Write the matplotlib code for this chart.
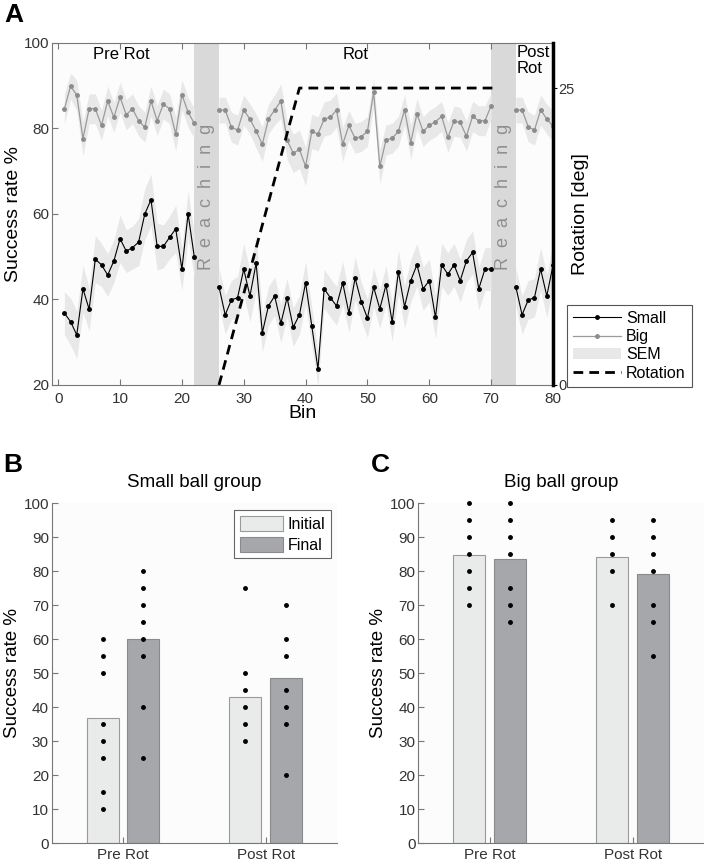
import numpy as np
import matplotlib
matplotlib.use('Agg')
import matplotlib.pyplot as plt
from matplotlib.lines import Line2D
from matplotlib.patches import Patch

plt.rcParams['font.family'] = ['Liberation Sans', 'DejaVu Sans']

# ---- panel A: success rate per bin ----
pre_bins = list(range(1, 23))
rot_bins = list(range(26, 71))
post_bins = list(range(74, 81))

small_pre = [36.8, 34.8, 31.7, 42.5, 37.7, 49.4, 48.1, 45.7, 49.0, 54.2, 51.3,
             52.1, 53.4, 60.0, 63.3, 52.4, 52.4, 54.5, 56.5, 47.1, 60.0, 50.0]
small_rot = [42.9, 36.4, 39.9, 40.4, 47.1, 40.8, 48.5, 32.2, 38.5, 40.8,
             34.4, 40.4, 33.5, 36.4, 43.9, 33.8, 23.7, 42.5, 40.4, 38.5,
             43.9, 36.8, 45.0, 39.5, 35.6, 42.9, 37.8, 43.4, 34.7, 46.5,
             38.3, 44.4, 48.1, 42.5, 44.4, 35.8, 48.1, 45.9, 48.1, 44.4,
             49.0, 51.0, 42.5, 47.1, 47.1]
small_post = [42.9, 36.4, 39.9, 40.4, 47.1, 40.8, 48.0]

big_pre = [84.6, 89.9, 87.8, 77.6, 84.6, 84.6, 80.7, 86.4, 82.6, 87.3, 83.2,
           84.6, 81.8, 80.3, 86.4, 81.8, 85.7, 84.6, 78.7, 87.9, 83.8, 81.2]
big_rot = [84.3, 84.3, 80.3, 79.6, 84.3, 82.2, 79.4, 76.3, 82.2, 84.3,
           86.4, 77.3, 74.2, 75.1, 71.1, 79.3, 78.7, 82.2, 82.6, 84.3,
           76.3, 80.7, 77.7, 78.1, 79.3, 88.5, 71.1, 77.3, 77.7, 79.3,
           84.3, 76.7, 83.4, 79.3, 80.7, 81.6, 82.8, 77.9, 81.7, 81.4,
           78.2, 82.8, 81.8, 81.8, 85.3]
big_post = [84.3, 84.3, 80.4, 79.6, 84.3, 82.2, 80.5]

small_sem_pre = [5.0, 5.5, 5.5, 5.5, 5.0, 5.5, 5.0, 5.0, 5.0, 5.5, 5.0,
                 5.0, 5.5, 6.0, 6.0, 5.5, 5.0, 5.0, 5.5, 5.0, 5.5, 5.0]
small_sem_rot = [4.5, 4.5, 4.5, 5.0, 6.0, 6.0, 6.5, 4.5, 4.5, 4.5,
                 4.5, 4.5, 4.5, 4.5, 5.0, 4.5, 4.0, 4.5, 4.5, 4.5,
                 5.0, 4.5, 5.0, 4.5, 4.5, 4.5, 4.5, 4.5, 4.5, 5.0,
                 5.0, 5.0, 5.0, 5.0, 5.0, 5.0, 5.0, 5.0, 5.0, 5.0,
                 5.0, 5.0, 5.0, 5.0, 5.0]
small_sem_post = [4.5, 4.5, 4.5, 4.5, 5.0, 5.0, 5.0]

big_sem_pre = [3.5, 3.0, 3.5, 4.0, 3.5, 3.5, 3.5, 3.5, 3.5, 3.5, 3.5,
               3.5, 3.5, 3.5, 3.5, 3.5, 3.5, 3.5, 4.0, 3.5, 3.5, 3.5]
big_sem_rot = [3.0, 3.0, 3.5, 3.5, 3.5, 3.5, 4.0, 4.0, 3.5, 3.5,
               4.0, 4.5, 4.5, 4.5, 4.5, 4.0, 4.0, 4.0, 4.0, 4.0,
               4.0, 3.5, 3.5, 3.5, 3.5, 3.0, 4.0, 3.5, 3.5, 3.5,
               3.5, 4.0, 3.5, 3.5, 3.5, 3.5, 3.5, 3.5, 3.5, 3.5,
               3.5, 3.5, 3.5, 3.5, 3.0]
big_sem_post = [3.0, 3.0, 3.5, 3.5, 3.5, 3.5, 3.5]

reach_blocks = [(22, 26), (70, 74)]
rot_x = [26, 39, 71]
rot_deg = [0, 25, 25]

# ---- panels B, C: group summary ----
groups = ['Pre Rot', 'Post Rot']
small_initial = [37.0, 43.1]
small_final = [60.0, 48.7]
small_initial_pts = [[60, 55, 50, 35, 30, 25, 15, 10], [75, 50, 45, 40, 35, 30]]
small_final_pts = [[80, 75, 70, 65, 60, 55, 40, 25], [70, 60, 55, 45, 40, 35, 20]]
big_initial = [84.8, 84.1]
big_final = [83.6, 79.1]
big_initial_pts = [[100, 95, 90, 85, 80, 75, 70], [95, 90, 85, 80, 70]]
big_final_pts = [[100, 95, 90, 85, 75, 70, 65], [95, 90, 85, 80, 70, 65, 55]]

c_small = 'black'
c_big = '#9a9a9a'
c_sem = '#e8e8e8'
c_reach = '#d9d9d9'
c_init = '#e9ebeb'
c_final = '#a6a7aa'
c_spine = '#777777'
c_tick = '#333333'

fig = plt.figure(figsize=(7.04, 8.67), dpi=100)

axA = fig.add_axes([0.0739, 0.556, 0.7116, 0.3945])
axA.set_facecolor('#fcfcfc')
for x0, x1 in reach_blocks:
    axA.axvspan(x0, x1, color=c_reach, lw=0, zorder=1)
    axA.text((x0 + x1) / 2, 64, 'R  e  a  c  h  i  n  g', rotation=90,
             ha='center', va='center', color='#8f8f8f', fontsize=13, zorder=2)

segments = [(pre_bins, small_pre, small_sem_pre, big_pre, big_sem_pre),
            (rot_bins, small_rot, small_sem_rot, big_rot, big_sem_rot),
            (post_bins, small_post, small_sem_post, big_post, big_sem_post)]
for bins, s, s_sem, b, b_sem in segments:
    s = np.array(s); s_sem = np.array(s_sem)
    b = np.array(b); b_sem = np.array(b_sem)
    axA.fill_between(bins, b - b_sem, b + b_sem, color=c_sem, lw=0, zorder=2)
    axA.fill_between(bins, s - s_sem, s + s_sem, color=c_sem, lw=0, zorder=2)
    axA.plot(bins, b, '-', color=c_big, lw=0.9, marker='.', ms=5,
             mfc='#8c8c8c', mec='#8c8c8c', zorder=3)
    axA.plot(bins, s, '-', color=c_small, lw=0.8, marker='.', ms=5, zorder=4)

axA.set_xlim(-1, 80)
axA.set_ylim(20, 100)
axA.set_xticks(range(0, 81, 10))
axA.set_yticks(range(20, 101, 20))
axA.tick_params(direction='in', top=True, right=True, length=4, color=c_spine,
                labelsize=11, labelcolor=c_tick)
axA.tick_params(axis='x', pad=5)
axA.tick_params(axis='y', pad=2)
for sp in axA.spines.values():
    sp.set_color(c_spine)
axA.spines['right'].set_visible(False)
axA.set_xlabel('Bin', fontsize=14, labelpad=-1)
axA.set_ylabel('Success rate %', fontsize=14, labelpad=1)

axA.text(10.2, 97.2, 'Pre Rot', ha='center', va='center', fontsize=12)
axA.text(48.1, 97.2, 'Rot', ha='center', va='center', fontsize=12)
axA.text(74.2, 99.4, 'Post\nRot', ha='left', va='top', fontsize=12,
         linespacing=1.05)

ax2 = axA.twinx()
ax2.plot(rot_x, rot_deg, '--', color='black', lw=2, dashes=(3.5, 2.2), zorder=5)
ax2.set_ylim(0, 28.8)
ax2.set_yticks([0, 25])
for side in ['left', 'top', 'bottom']:
    ax2.spines[side].set_visible(False)
ax2.spines['right'].set_linewidth(2.5)
ax2.spines['right'].set_color('black')
ax2.tick_params(direction='out', length=3, labelsize=10.5, labelcolor=c_tick,
                pad=1)
ax2.set_ylabel('Rotation [deg]', fontsize=14, labelpad=-2)

handles = [Line2D([], [], color=c_small, lw=0.8, marker='.', ms=5),
           Line2D([], [], color=c_big, lw=0.9, marker='.', ms=5,
                  mfc='#8c8c8c', mec='#8c8c8c'),
           Patch(facecolor=c_sem, edgecolor='none'),
           Line2D([], [], color='black', lw=2, ls='--', dashes=(3.5, 2.2))]
leg = ax2.legend(handles, ['Small', 'Big', 'SEM', 'Rotation'], loc='lower left',
                 bbox_to_anchor=(1.028, -0.006), borderaxespad=0, fontsize=11.5,
                 fancybox=False, handlelength=3, handletextpad=0.3,
                 labelspacing=0.2, borderpad=0.4, framealpha=1)
leg.get_frame().set_edgecolor('#555555')
leg.get_frame().set_linewidth(0.8)


def bar_panel(ax, initial, final, init_pts, final_pts, title):
    x = np.arange(1, len(groups) + 1)
    off, w = 0.143, 0.225
    ax.set_facecolor('#fcfcfc')
    ax.bar(x - off, initial, w, color=c_init, edgecolor='#9a9a9a', lw=0.8,
           label='Initial', zorder=2)
    ax.bar(x + off, final, w, color=c_final, edgecolor='#8a8a8a', lw=0.8,
           label='Final', zorder=2)
    for i in range(len(groups)):
        ax.plot([x[i] - off] * len(init_pts[i]), init_pts[i], '.', color='k',
                ms=5, zorder=3, clip_on=False)
        ax.plot([x[i] + off] * len(final_pts[i]), final_pts[i], '.', color='k',
                ms=5, zorder=3, clip_on=False)
    ax.set_xlim(0.5, 2.5)
    ax.set_ylim(0, 100)
    ax.set_yticks(range(0, 101, 10))
    ax.set_xticks(x)
    ax.set_xticklabels(groups)
    ax.spines['top'].set_visible(False)
    ax.spines['right'].set_visible(False)
    ax.spines['left'].set_color(c_spine)
    ax.spines['bottom'].set_color(c_spine)
    ax.tick_params(direction='in', length=4, color=c_spine, labelsize=11,
                   labelcolor=c_tick)
    ax.tick_params(axis='y', pad=2)
    ax.set_ylabel('Success rate %', fontsize=13.5, labelpad=2)
    ax.set_title(title, fontsize=13.5, pad=12)


axB = fig.add_axes([0.0734, 0.0273, 0.4053, 0.3922])
bar_panel(axB, small_initial, small_final, small_initial_pts, small_final_pts,
          'Small ball group')
legB = axB.legend(loc='upper right', bbox_to_anchor=(0.979, 0.980),
                  borderaxespad=0, fontsize=11.5, fancybox=False,
                  handlelength=2.7, handleheight=1.1, handletextpad=0.3,
                  labelspacing=0.3, borderpad=0.35, framealpha=1)
legB.get_frame().set_edgecolor('#666666')
legB.get_frame().set_linewidth(0.8)

axC = fig.add_axes([0.5942, 0.0273, 0.4058, 0.3922])
bar_panel(axC, big_initial, big_final, big_initial_pts, big_final_pts,
          'Big ball group')

fig.text(0.006, 0.997, 'A', fontsize=19, fontweight='bold', va='top')
fig.text(0.004, 0.477, 'B', fontsize=19, fontweight='bold', va='top')
fig.text(0.527, 0.477, 'C', fontsize=19, fontweight='bold', va='top')

fig.savefig('out.png', dpi=100)
